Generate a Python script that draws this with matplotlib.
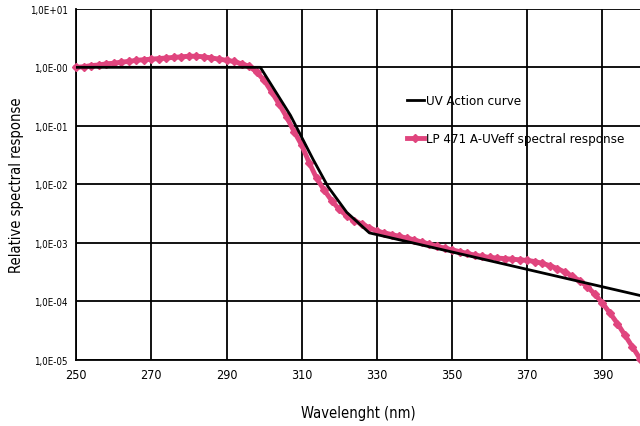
import numpy as np
import matplotlib.pyplot as plt

plt.rcParams['font.family'] = ['DejaVu Sans']
plt.rcParams['font.stretch'] = 'condensed'

# UV action curve (log10 of response)
uv_nm = [250, 299, 307, 313, 317, 322, 328, 400]
uv_log10 = [0.0, 0.0, -0.82, -1.57, -2.04, -2.48, -2.83, -3.90]
uv_resp = 10 ** np.array(uv_log10)

# LP 471 A-UVeff spectral response, read every 2 nm (log10 of response)
lp_nm = list(range(250, 401, 2))
lp_log10 = [0.00, 0.01, 0.03, 0.04, 0.06, 0.07, 0.09, 0.10, 0.12, 0.13,
            0.14, 0.15, 0.16, 0.17, 0.18, 0.19, 0.19, 0.18, 0.16, 0.14,
            0.12, 0.10, 0.06, 0.02, -0.08, -0.22, -0.42, -0.63, -0.85, -1.10,
            -1.33, -1.63, -1.90, -2.10, -2.28, -2.43, -2.54, -2.62, -2.68, -2.74,
            -2.80, -2.83, -2.86, -2.89, -2.92, -2.95, -2.99, -3.02, -3.06, -3.09,
            -3.12, -3.15, -3.18, -3.21, -3.23, -3.25, -3.26, -3.27, -3.28, -3.29,
            -3.30, -3.32, -3.35, -3.39, -3.44, -3.50, -3.57, -3.65, -3.75, -3.88,
            -4.03, -4.20, -4.38, -4.58, -4.78, -4.98]
lp_resp = 10 ** np.array(lp_log10)

xticks = [250, 270, 290, 310, 330, 350, 370, 390]
yticks = [1e1, 1e0, 1e-1, 1e-2, 1e-3, 1e-4, 1e-5]
ylabels = ['1,0E+01', '1,0E-00', '1,0E-01', '1,0E-02', '1,0E-03', '1,0E-04', '1,0E-05']

fig = plt.figure(figsize=(6.4, 4.27), dpi=100)
ax = fig.add_axes([0.119, 0.155, 0.881, 0.822])

ax.plot(lp_nm, lp_resp, color='#e0457e', lw=3.5, marker='D', ms=4.5,
        label='LP 471 A-UVeff spectral response', zorder=3, clip_on=False)
ax.plot(uv_nm, uv_resp, color='black', lw=2, label='UV Action curve', zorder=4)

ax.set_yscale('log')
ax.set_xlim(250, 400)
ax.set_ylim(1e-5, 1e1)
ax.set_xticks(xticks)
ax.set_xticklabels([str(t) for t in xticks], fontsize=9)
ax.set_yticks(yticks)
ax.set_yticklabels(ylabels, fontsize=7)
ax.yaxis.set_minor_locator(plt.NullLocator())
ax.tick_params(length=0, pad=6)
ax.grid(True, color='black', lw=1.3)
for s in ['top', 'right']:
    ax.spines[s].set_visible(False)
for s in ['left', 'bottom']:
    ax.spines[s].set_linewidth(1.3)

ax.set_xlabel('Wavelenght (nm)', fontsize=10.5, labelpad=17)
ax.set_ylabel('Relative spectral response', fontsize=10.5, labelpad=4)

h, l = ax.get_legend_handles_labels()
ax.legend(h[::-1], l[::-1], loc='upper left', bbox_to_anchor=(0.565, 0.79),
          frameon=False, fontsize=9.5, handlelength=1.3, handletextpad=0.2,
          labelspacing=1.9)

fig.savefig('out.png', dpi=100)
